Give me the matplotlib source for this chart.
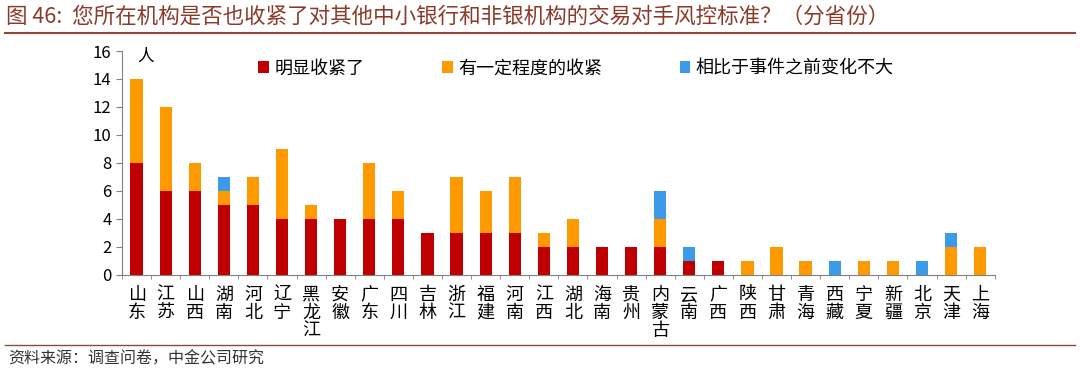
import numpy as np
import matplotlib.pyplot as plt
from matplotlib.ticker import MultipleLocator

plt.rcParams['font.family'] = ['Noto Sans CJK SC', 'DejaVu Sans']

provinces = ['山东', '江苏', '山西', '湖南', '河北', '辽宁', '黑龙江', '安徽', '广东', '四川',
             '吉林', '浙江', '福建', '河南', '江西', '湖北', '海南', '贵州', '内蒙古', '云南',
             '广西', '陕西', '甘肃', '青海', '西藏', '宁夏', '新疆', '北京', '天津', '上海']
tight = [8, 6, 6, 5, 5, 4, 4, 4, 4, 4, 3, 3, 3, 3, 2, 2, 2, 2, 2, 1, 1, 0, 0, 0, 0, 0, 0, 0, 0, 0]
some = [6, 6, 2, 1, 2, 5, 1, 0, 4, 2, 0, 4, 3, 4, 1, 2, 0, 0, 2, 0, 0, 1, 2, 1, 0, 1, 1, 0, 2, 2]
nochange = [0, 0, 0, 1, 0, 0, 0, 0, 0, 0, 0, 0, 0, 0, 0, 0, 0, 0, 2, 1, 0, 0, 0, 0, 1, 0, 0, 1, 1, 0]
series_names = ['明显收紧了', '有一定程度的收紧', '相比于事件之前变化不大']
colors = ['#C00000', '#FF9900', '#3C9BE8']

fig = plt.figure(figsize=(10.8, 3.75), dpi=100)
ax = fig.add_axes([0.113, 0.267, 0.808, 0.597])

x = np.arange(len(provinces))
w = 0.42
tight = np.array(tight)
some = np.array(some)
nochange = np.array(nochange)
ax.bar(x, tight, w, color=colors[0], label=series_names[0])
ax.bar(x, some, w, bottom=tight, color=colors[1], label=series_names[1])
ax.bar(x, nochange, w, bottom=tight + some, color=colors[2], label=series_names[2])

ax.set_xlim(-0.5, len(provinces) - 0.5)
ax.set_ylim(0, 16)
ax.yaxis.set_major_locator(MultipleLocator(2))
for s in ['top', 'right']:
    ax.spines[s].set_visible(False)
for s in ['left', 'bottom']:
    ax.spines[s].set_color('#808080')
    ax.spines[s].set_linewidth(0.8)

ax.set_xticks(x)
ax.set_xticklabels(['\n'.join(p) for p in provinces], fontsize=13, linespacing=1.0, va='top')
ax.tick_params(axis='x', length=0, pad=8)
ax.set_xticks(np.arange(len(provinces) + 1) - 0.5, minor=True)
ax.tick_params(axis='x', which='minor', length=3, color='#808080', direction='out')
ax.tick_params(axis='y', labelsize=12, length=4, color='#808080', direction='out')

ax.text(0.3, 16.2, '人', fontsize=12, va='top', ha='center')

leg = ax.legend(loc='upper center', bbox_to_anchor=(0.52, 1.035), ncol=3, frameon=False,
                fontsize=13, handlelength=0.6, handleheight=0.6, handletextpad=0.3,
                columnspacing=4.3)

fig.text(0.006, 0.955, '图 46:  您所在机构是否也收紧了对其他中小银行和非银机构的交易对手风控标准？（分省份）',
         fontsize=15.5, color='#8B3A2A', va='center', style='italic')
fig.add_artist(plt.Line2D([0.005, 0.995], [0.912, 0.912], color='#8B4A3A', lw=1.5))
fig.add_artist(plt.Line2D([0.005, 0.995], [0.080, 0.080], color='#8B4A3A', lw=1.0))
fig.text(0.008, 0.043, '资料来源：调查问卷，中金公司研究', fontsize=11.5, color='#333333', va='center',
         style='italic')

fig.savefig('out.png', dpi=100)
